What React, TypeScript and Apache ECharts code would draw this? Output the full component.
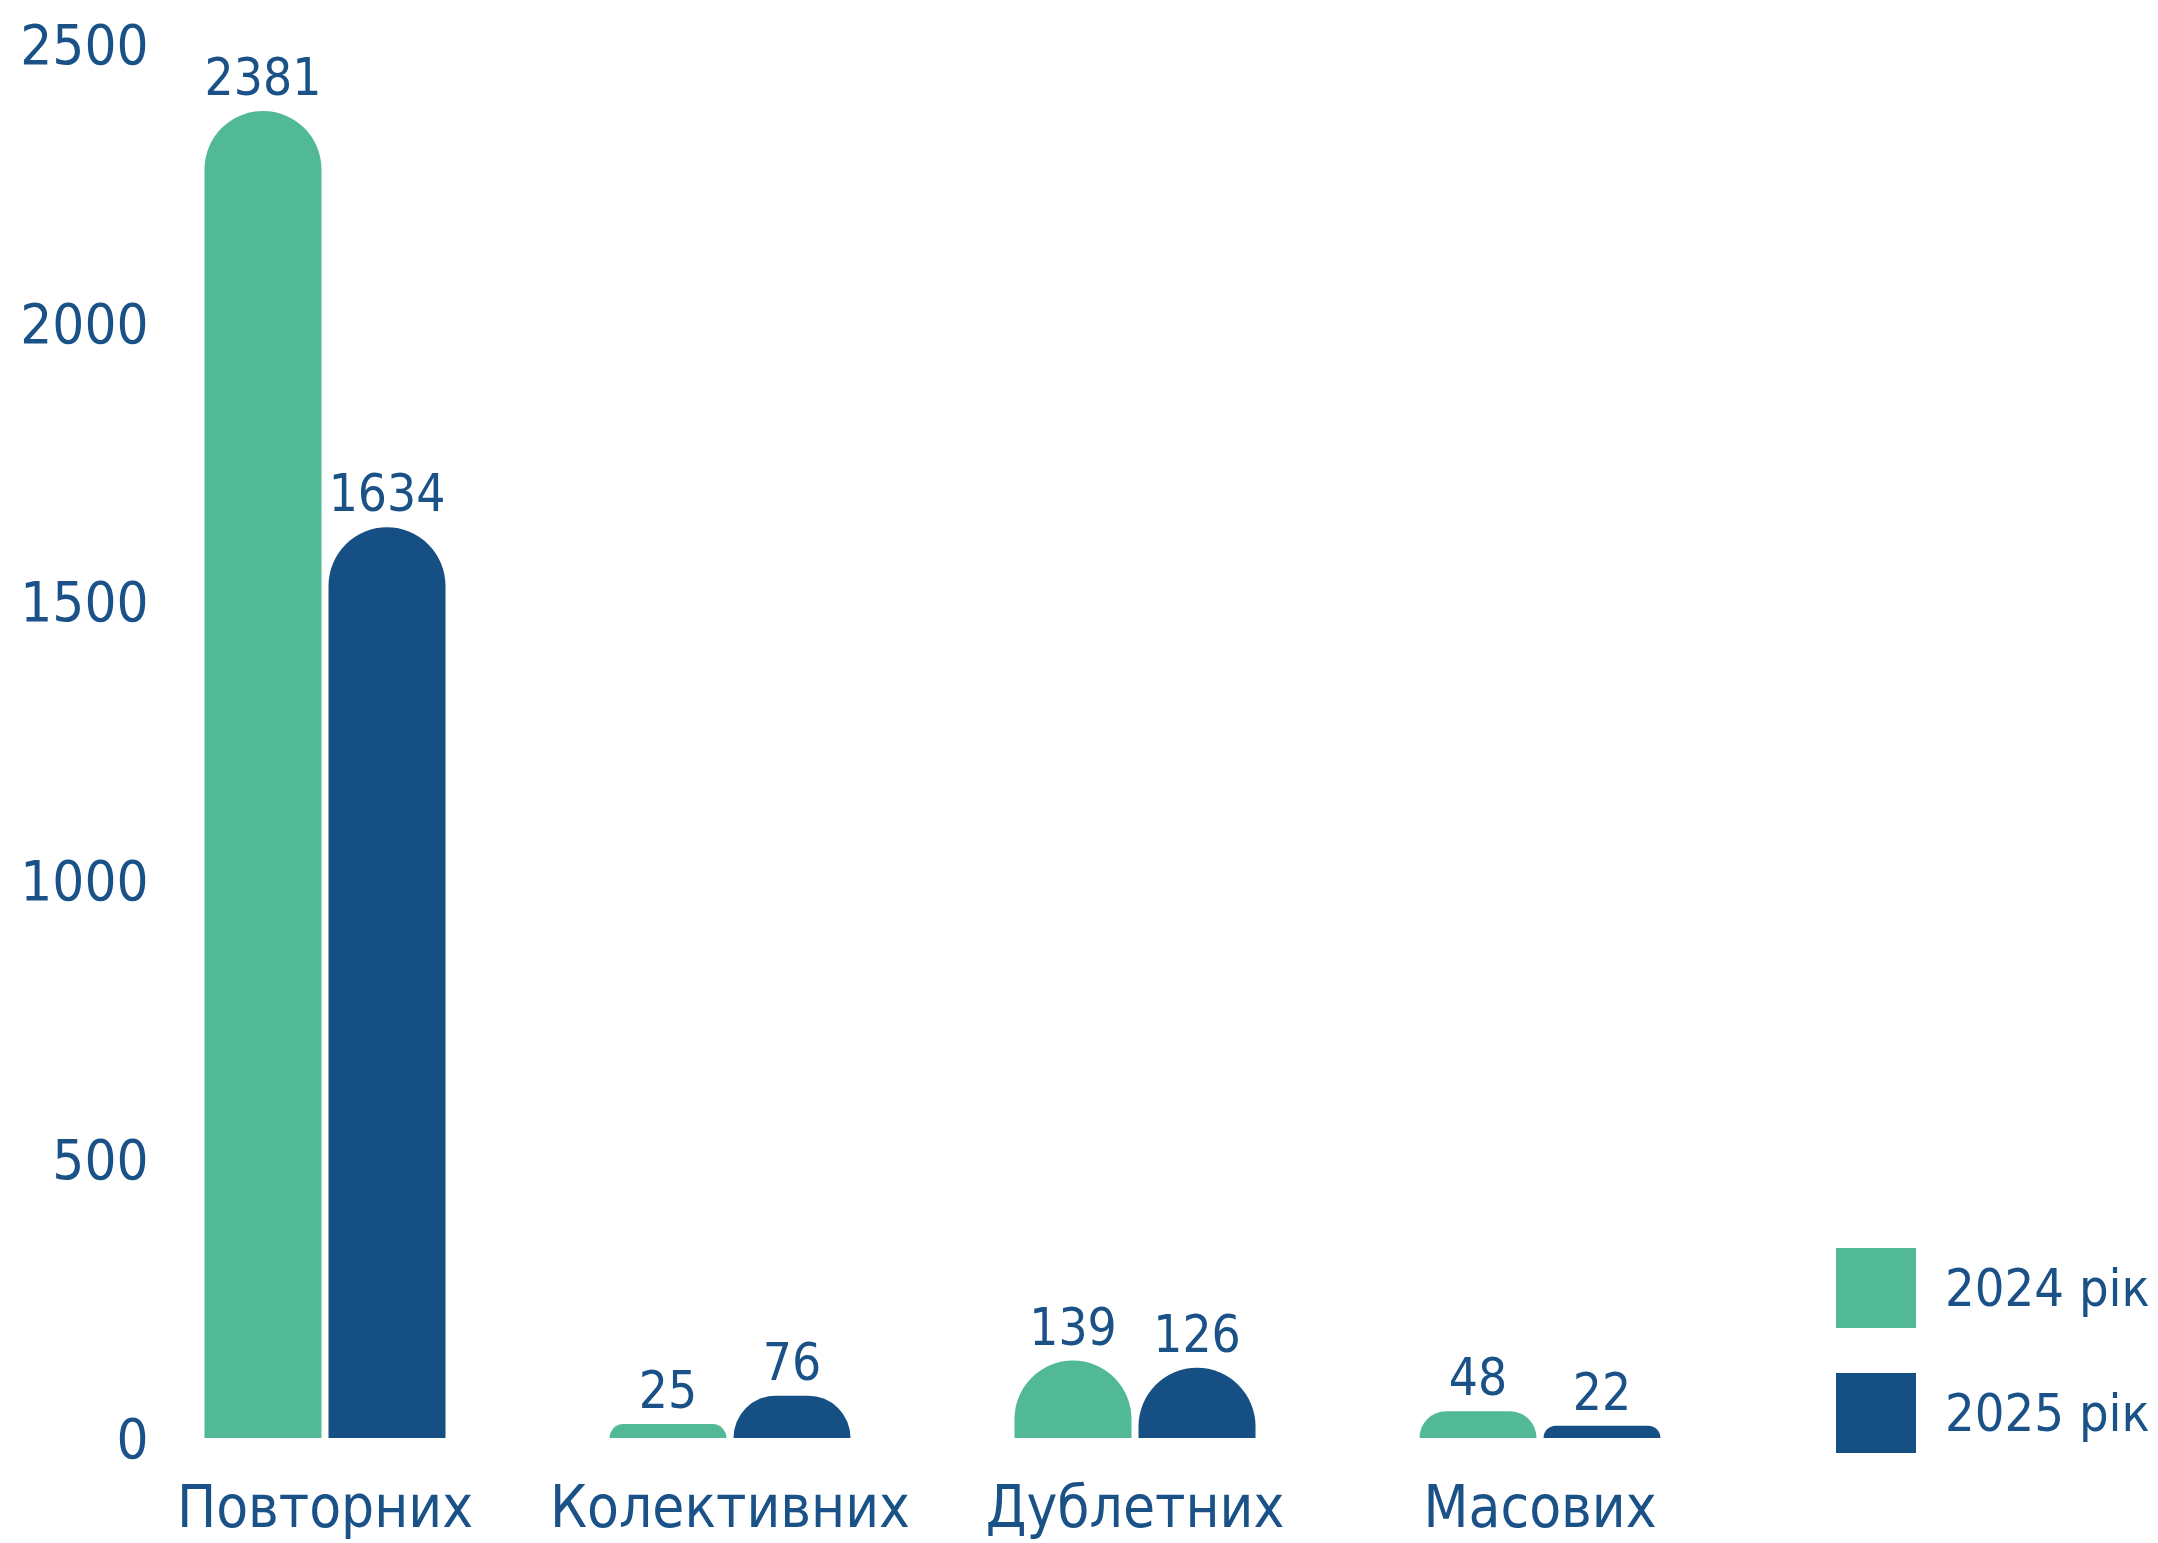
import React, { useEffect, useRef } from "react";
import * as echarts from "echarts";

const categories = ["Повторних", "Колективних", "Дублетних", "Масових"];
const seriesNames = ["2024 рік", "2025 рік"];
const values2024 = [2381, 25, 139, 48];
const values2025 = [1634, 76, 126, 22];

const GREEN = "#52b996";
const BLUE = "#154f83";
const TEXT = "#1a5288";
const FONT = "'Liberation Sans Narrow', 'DejaVu Sans Condensed', 'Roboto', sans-serif";

export default function App() {
  const ref = useRef<HTMLDivElement>(null);
  useEffect(() => {
    if (!ref.current) return;
    const chart = echarts.init(ref.current, null, { renderer: "svg" });
    const barWidth = 117;
    const makeSeries = (name: string, data: number[], color: string) => ({
      name,
      type: "bar",
      data,
      barWidth,
      barGap: "6%",
      itemStyle: { color, borderRadius: [58.5, 58.5, 0, 0] },
      label: {
        show: true,
        position: "top",
        distance: 8,
        color: TEXT,
        fontFamily: FONT,
        fontSize: 51,
      },
    });
    chart.setOption({
      animation: false,
      backgroundColor: "#ffffff",
      grid: {
        left: 122.5,
        right: 415.5,
        top: 44.6,
        bottom: 105,
        containLabel: false,
        outerBoundsMode: "none",
      },
      legend: {
        orient: "vertical",
        left: 1836,
        top: 1248,
        padding: 0,
        itemWidth: 80,
        itemHeight: 80,
        itemGap: 45,
        icon: "rect",
        textStyle: { color: TEXT, fontFamily: FONT, fontSize: 52, padding: [0, 0, 0, 24] },
        data: seriesNames,
      },
      xAxis: {
        type: "category",
        data: categories,
        axisLine: { show: false },
        axisTick: { show: false },
        axisLabel: {
          color: TEXT,
          fontFamily: FONT,
          fontSize: 58,
          margin: 40,
          interval: 0,
        },
      },
      yAxis: {
        type: "value",
        min: 0,
        max: 2500,
        interval: 500,
        axisLine: { show: false },
        axisTick: { show: false },
        splitLine: { show: false },
        axisLabel: {
          color: TEXT,
          fontFamily: FONT,
          fontSize: 56,
          margin: -26,
          formatter: (v: number) => String(v),
        },
      },
      series: [
        makeSeries(seriesNames[0], values2024, GREEN),
        makeSeries(seriesNames[1], values2025, BLUE),
      ],
    });
    return () => chart.dispose();
  }, []);
  return (
    <div
      ref={ref}
      style={{ position: "fixed", left: 0, top: 0, width: 2158, height: 1543, background: "#fff" }}
    />
  );
}
